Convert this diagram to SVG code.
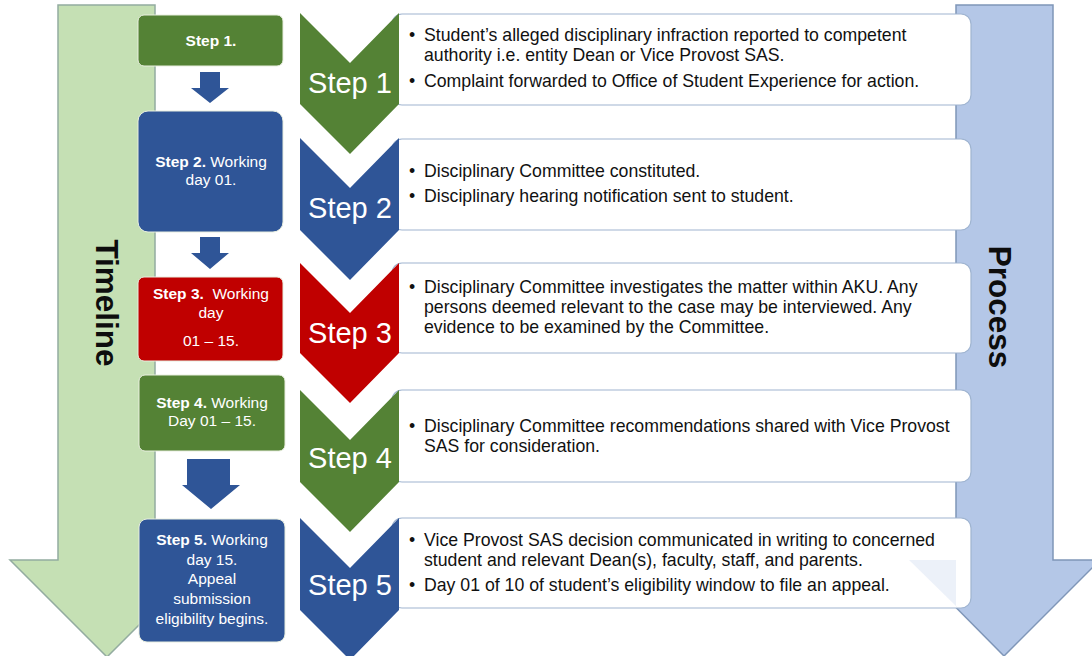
<svg xmlns="http://www.w3.org/2000/svg" width="1092" height="656" viewBox="0 0 1092 656">
<style>
.big{font-family:"Liberation Sans",Arial,sans-serif;font-weight:bold;font-size:31.5px;fill:#0d0d0d;text-anchor:middle}
.lt{font-family:"Liberation Sans",Arial,sans-serif;font-size:15.5px;fill:#fff;text-anchor:middle}
.lt .b{font-weight:bold}
.ch{font-family:"Liberation Sans",Arial,sans-serif;font-size:29px;fill:#fff;text-anchor:middle}
.bt{font-family:"Liberation Sans",Arial,sans-serif;font-size:17.7px;fill:#111}
.box{fill:#fff;stroke:#9fb4d0;stroke-width:1.2}
.lb{stroke:#e8eedf;stroke-width:1}
.g{fill:#548235}.bl{fill:#2f5597}.r{fill:#c00000}
</style>
<rect width="1092" height="656" fill="#fff"/>
<g id="timeline">
<polygon points="58,5 155,5 155,560 204,560 107,657 10,560 58,560" fill="#c5e0b4" stroke="#93aca0" stroke-width="1.5"/>
<text class="big" transform="translate(96,303) rotate(90)">Timeline</text>
</g>
<g id="process">
<polygon points="956,5 1053,5 1053,560 1100,560 1004,656 909,560 956,560" fill="#b4c7e7" stroke="#7f96b8" stroke-width="1.5"/>
<text class="big" transform="translate(989,307) rotate(90)">Process</text>
</g>
<g id="box1"><rect class="box" x="392" y="14" width="579" height="91" rx="10"/>
<text class="bt" x="409" y="41">•</text><text class="bt" x="424" y="41">Student’s alleged disciplinary infraction reported to competent</text>
<text class="bt" x="424" y="61">authority i.e. entity Dean or Vice Provost SAS.</text>
<text class="bt" x="409" y="87">•</text><text class="bt" x="424" y="87">Complaint forwarded to Office of Student Experience for action.</text></g>
<g id="box2"><rect class="box" x="392" y="139" width="579" height="91" rx="10"/>
<text class="bt" x="409" y="177">•</text><text class="bt" x="424" y="177">Disciplinary Committee constituted.</text>
<text class="bt" x="409" y="202">•</text><text class="bt" x="424" y="202">Disciplinary hearing notification sent to student.</text></g>
<g id="box3"><rect class="box" x="392" y="263" width="579" height="90" rx="10"/>
<text class="bt" x="409" y="293">•</text><text class="bt" x="424" y="293">Disciplinary Committee investigates the matter within AKU. Any</text>
<text class="bt" x="424" y="313">persons deemed relevant to the case may be interviewed. Any</text>
<text class="bt" x="424" y="333">evidence to be examined by the Committee.</text></g>
<g id="box4"><rect class="box" x="392" y="390" width="579" height="92" rx="10"/>
<text class="bt" x="409" y="432">•</text><text class="bt" x="424" y="432">Disciplinary Committee recommendations shared with Vice Provost</text>
<text class="bt" x="424" y="452">SAS for consideration.</text></g>
<g id="box5"><rect class="box" x="392" y="518" width="579" height="90" rx="10"/>
<polygon points="909,560 956,560 956,607 957,607" fill="#b4c7e7" opacity="0.25"/>
<text class="bt" x="409" y="546">•</text><text class="bt" x="424" y="546">Vice Provost SAS decision communicated in writing to concerned</text>
<text class="bt" x="424" y="566">student and relevant Dean(s), faculty, staff, and parents.</text>
<text class="bt" x="409" y="591">•</text><text class="bt" x="424" y="591">Day 01 of 10 of student’s eligibility window to file an appeal.</text></g>
<g id="chev1"><polygon class="g" points="300,13 350,63 399,13 399,104 350,154 300,104"/><text class="ch" x="350" y="93">Step 1</text></g>
<g id="chev2"><polygon class="bl" points="300,138 350,188 399,138 399,230 350,280 300,230"/><text class="ch" x="350" y="218">Step 2</text></g>
<g id="chev3"><polygon class="r" points="300,263 350,313 399,263 399,353 350,403 300,353"/><text class="ch" x="350" y="343">Step 3</text></g>
<g id="chev4"><polygon class="g" points="300,390 350,440 399,390 399,482 350,532 300,482"/><text class="ch" x="350" y="468">Step 4</text></g>
<g id="chev5"><polygon class="bl" points="300,518 350,568 399,518 399,610 350,660 300,610"/><text class="ch" x="350" y="595">Step 5</text></g>
<g id="tl1"><rect class="g lb" x="138" y="15" width="145" height="51" rx="6"/><text class="lt" x="211" y="46"><tspan class="b">Step 1.</tspan></text></g>
<g id="tl2"><rect class="bl lb" x="138" y="111" width="145" height="121" rx="10"/><text class="lt" x="211" y="167"><tspan class="b">Step 2.</tspan> Working</text><text class="lt" x="211" y="185">day 01.</text></g>
<g id="tl3"><rect class="r lb" x="138" y="277" width="145" height="84" rx="6"/><text class="lt" x="211" y="299" xml:space="preserve"><tspan class="b">Step 3.</tspan>  Working</text><text class="lt" x="211" y="318">day</text><text class="lt" x="211" y="346">01 – 15.</text></g>
<g id="tl4"><rect class="g lb" x="139" y="375" width="146" height="76" rx="6"/><text class="lt" x="212" y="408"><tspan class="b">Step 4.</tspan> Working</text><text class="lt" x="212" y="426">Day 01 – 15.</text></g>
<g id="tl5"><rect class="bl lb" x="139" y="519" width="146" height="123" rx="8"/><text class="lt" x="212" y="545"><tspan class="b">Step 5.</tspan> Working</text><text class="lt" x="212" y="565">day 15.</text><text class="lt" x="212" y="584">Appeal</text><text class="lt" x="212" y="604">submission</text><text class="lt" x="212" y="624">eligibility begins.</text></g>
<g id="connectors" fill="#2f5597">
<polygon points="200,72 220,72 220,88 229,88 210,103 191,88 200,88"/>
<polygon points="200,237 220,237 220,253 229,253 210,269 191,253 200,253"/>
<polygon points="187,459 230,459 230,485 240,485 211,509 182,485 187,485"/>
</g>
</svg>
